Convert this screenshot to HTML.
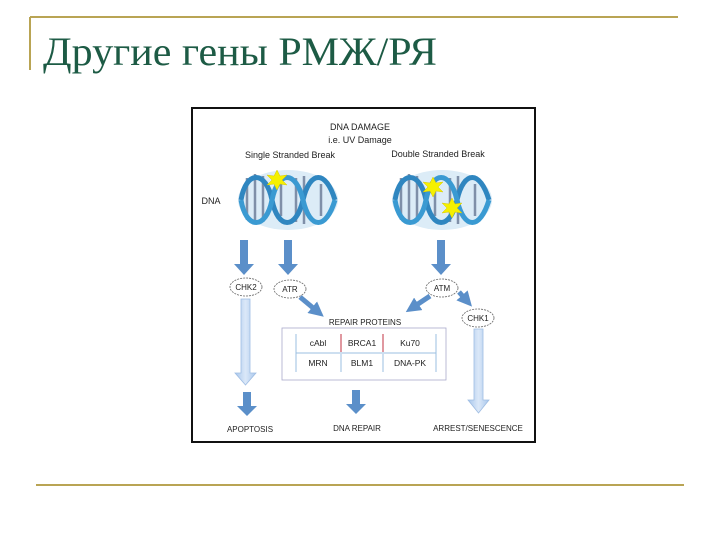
<!DOCTYPE html>
<html><head><meta charset="utf-8"><style>
html,body{margin:0;padding:0;background:#fff;width:720px;height:540px;overflow:hidden}
svg{display:block}
</style></head><body>
<svg width="720" height="540" viewBox="0 0 720 540" xmlns="http://www.w3.org/2000/svg">
<defs>
<marker id="ah" viewBox="0 0 10 10" refX="5" refY="5" markerWidth="3" markerHeight="3" orient="auto"><path d="M0,0L10,5L0,10z" fill="#5b8fc9"/></marker>
<linearGradient id="lg" x1="0" x2="1"><stop offset="0" stop-color="#a9c7ec"/><stop offset="0.5" stop-color="#dbe8f8"/><stop offset="1" stop-color="#a9c7ec"/></linearGradient>
<g id="helix">
<ellipse cx="47" cy="30" rx="50" ry="30" fill="#dcecf7"/>
<g stroke="#7f8fa8" stroke-width="2.5">
<line x1="6" y1="8" x2="6" y2="50"/><line x1="14" y1="4" x2="14" y2="54"/><line x1="22" y1="6" x2="22" y2="52"/>
<line x1="40" y1="14" x2="40" y2="46"/><line x1="55" y1="8" x2="55" y2="52"/><line x1="63" y1="6" x2="63" y2="54"/>
<line x1="80" y1="14" x2="80" y2="46"/>
</g>
<path d="M0,30 C5,0 25,0 31,30 S55,60 62,30 S85,0 94,30" fill="none" stroke="#2f86c0" stroke-width="5"/>
<path d="M0,30 C5,60 25,60 31,30 S55,0 62,30 S85,60 94,30" fill="none" stroke="#3a9ad2" stroke-width="5"/>
</g>
<g id="star"><polygon points="0,-10 3,-4 10,-5 5,0 10,5 3,4 0,10 -3,4 -10,5 -5,0 -10,-5 -3,-4" fill="#f5f000" stroke="#d8c800" stroke-width="0.5"/></g>
</defs>
<line x1="30" y1="17" x2="678" y2="17" stroke="#b9a454" stroke-width="2"/>
<line x1="30" y1="17" x2="30" y2="70" stroke="#b9a454" stroke-width="2"/>
<line x1="36" y1="485" x2="684" y2="485" stroke="#b9a454" stroke-width="2"/>
<text x="43" y="65" font-family="Liberation Serif, serif" font-size="40" fill="#1d5b45" textLength="394" lengthAdjust="spacingAndGlyphs">Другие гены РМЖ/РЯ</text>
<rect x="192" y="108" width="343" height="334" fill="#fff" stroke="#111" stroke-width="2"/>
<g font-family="Liberation Sans, sans-serif" font-size="9" fill="#222" text-anchor="middle">
<text x="360" y="130">DNA DAMAGE</text>
<text x="360" y="143">i.e. UV Damage</text>
<text x="290" y="158">Single Stranded Break</text>
<text x="438" y="157">Double Stranded Break</text>
<text x="211" y="204">DNA</text>
</g>
<use href="#helix" x="241" y="170"/>
<use href="#helix" x="395" y="170"/>
<use href="#star" x="277" y="180"/>
<use href="#star" x="433" y="187"/>
<use href="#star" x="452" y="208"/>
<g fill="#5b8fc9">
<path d="M240,240h8v24h6l-10,11l-10,-11h6z"/>
<path d="M284,240h8v24h6l-10,11l-10,-11h6z"/>
<path d="M437,240h8v24h6l-10,11l-10,-11h6z"/>
<path d="M243,392h8v14h6l-10,10l-10,-10h6z"/>
<path d="M352,390h8v14h6l-10,10l-10,-10h6z"/>
</g>
<path d="M241,299h9v74h6l-10.5,12l-10.5,-12h6z" fill="url(#lg)" stroke="#9fbde3" stroke-width="0.8"/>
<path d="M474,329h9v71h6l-10.5,13l-10.5,-13h6z" fill="url(#lg)" stroke="#9fbde3" stroke-width="0.8"/>
<g stroke="#5b8fc9" stroke-width="5" marker-end="url(#ah)">
<line x1="300" y1="297" x2="318" y2="312"/>
<line x1="430" y1="296" x2="412" y2="308"/>
<line x1="459" y1="292" x2="467" y2="301"/>
</g>
<g fill="#fff" stroke="#666" stroke-width="0.8" stroke-dasharray="2,1">
<ellipse cx="246" cy="287" rx="16" ry="9"/>
<ellipse cx="290" cy="289" rx="16" ry="9"/>
<ellipse cx="442" cy="288" rx="16" ry="9"/>
<ellipse cx="478" cy="318" rx="16" ry="9"/>
</g>
<g font-family="Liberation Sans, sans-serif" font-size="8" fill="#222" text-anchor="middle">
<text x="246" y="290">CHK2</text>
<text x="290" y="292">ATR</text>
<text x="442" y="291">ATM</text>
<text x="478" y="321">CHK1</text>
<text x="365" y="325">REPAIR PROTEINS</text>
</g>
<rect x="282" y="328" width="164" height="52" fill="#fff" stroke="#aac" stroke-width="0.8"/>
<line x1="296" y1="353" x2="436" y2="353" stroke="#9bbfe0" stroke-width="1"/>
<line x1="296" y1="334" x2="296" y2="372" stroke="#9bbfe0" stroke-width="1"/>
<line x1="341" y1="334" x2="341" y2="352" stroke="#c03040" stroke-width="1"/>
<line x1="383" y1="334" x2="383" y2="352" stroke="#c03040" stroke-width="1"/>
<line x1="341" y1="354" x2="341" y2="372" stroke="#9bbfe0" stroke-width="1"/>
<line x1="383" y1="354" x2="383" y2="372" stroke="#9bbfe0" stroke-width="1"/>
<line x1="436" y1="334" x2="436" y2="372" stroke="#9bbfe0" stroke-width="1"/>
<g font-family="Liberation Sans, sans-serif" font-size="8.5" fill="#222" text-anchor="middle">
<text x="318" y="346">cAbl</text><text x="362" y="346">BRCA1</text><text x="410" y="346">Ku70</text>
<text x="318" y="366">MRN</text><text x="362" y="366">BLM1</text><text x="410" y="366">DNA-PK</text>
</g>
<g font-family="Liberation Sans, sans-serif" font-size="8" fill="#222" text-anchor="middle">
<text x="250" y="432">APOPTOSIS</text>
<text x="357" y="431">DNA REPAIR</text>
<text x="478" y="431">ARREST/SENESCENCE</text>
</g>
</svg>
</body></html>
